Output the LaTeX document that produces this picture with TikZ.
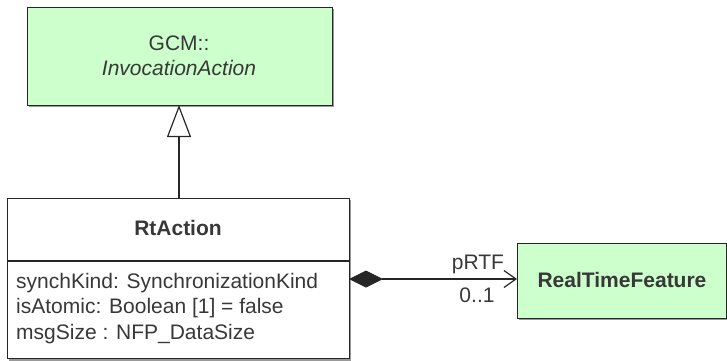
\documentclass[tikz,border=0pt]{standalone}
\usepackage{fontspec}
\setmainfont{Liberation Sans}
\usetikzlibrary{arrows.meta}
\definecolor{umlgreen}{HTML}{CCFFCC}
\definecolor{umltext}{HTML}{383838}
\begin{document}
\begin{tikzpicture}[x=1pt,y=-1pt,
  box/.style={draw=black!85,line width=1.2pt},
  txt/.style={text=umltext,inner sep=0pt,font=\fontsize{21}{25}\selectfont},
  btxt/.style={txt,font=\fontsize{21}{25}\selectfont\bfseries},
  shadow/.style={fill=black!40}]
\useasboundingbox (0,0) rectangle (727,360);
% shadows
\fill[shadow] (29,9) rectangle (334,107);
\fill[shadow] (9,200) rectangle (351,361);
\fill[shadow] (519,245) rectangle (728,320);
% GCM box
\node[box,fill=umlgreen,minimum width=305pt,minimum height=98pt,anchor=north west,inner sep=0pt] (gcm) at (27,7) {};
\node[txt] (gcmt1) at (179,43) {GCM::};
\node[txt] (gcmt2) at (179,68) {\itshape InvocationAction};
% RtAction box
\node[box,fill=white,minimum width=342pt,minimum height=160pt,anchor=north west,inner sep=0pt] (rt) at (7,198) {};
\draw[box] (7,261) coordinate (sepl) -- (349,261) coordinate (sepr);
\node[btxt] (rtt) at (178,228) {RtAction};
\node[txt,anchor=west] (a1) at (16,283) {synchKind: SynchronizationKind};
\node[txt,anchor=west] (a2) at (16,308) {isAtomic: Boolean [1] = false};
\node[txt,anchor=west] (a3) at (16,334) {msgSize : NFP\_DataSize};
% RealTimeFeature box
\node[box,fill=umlgreen,minimum width=209pt,minimum height=75pt,anchor=north west,inner sep=0pt] (rtf) at (517,243) {};
\node[btxt] (rtft) at (622,280) {RealTimeFeature};
% generalization
\coordinate (gtop) at (179,105);
\coordinate (gbot) at (179,198);
\draw[line width=1.2pt,draw=black!85,-{Triangle[open,width=24pt,length=32pt,line width=1.2pt]}] (gbot) -- (gtop);
% composition
\coordinate (cs) at (349,279);
\coordinate (ce) at (517,279);
\draw[line width=1.2pt,draw=black!85,{Diamond[width=17pt,length=34pt]}-{Straight Barb[length=12pt,width=17pt,line width=1.2pt]}] (cs) -- (ce);
\node[txt] (prtf) at (478,264) {pRTF};
\node[txt] (mult) at (477,295) {0..1};
\end{tikzpicture}
\end{document}
